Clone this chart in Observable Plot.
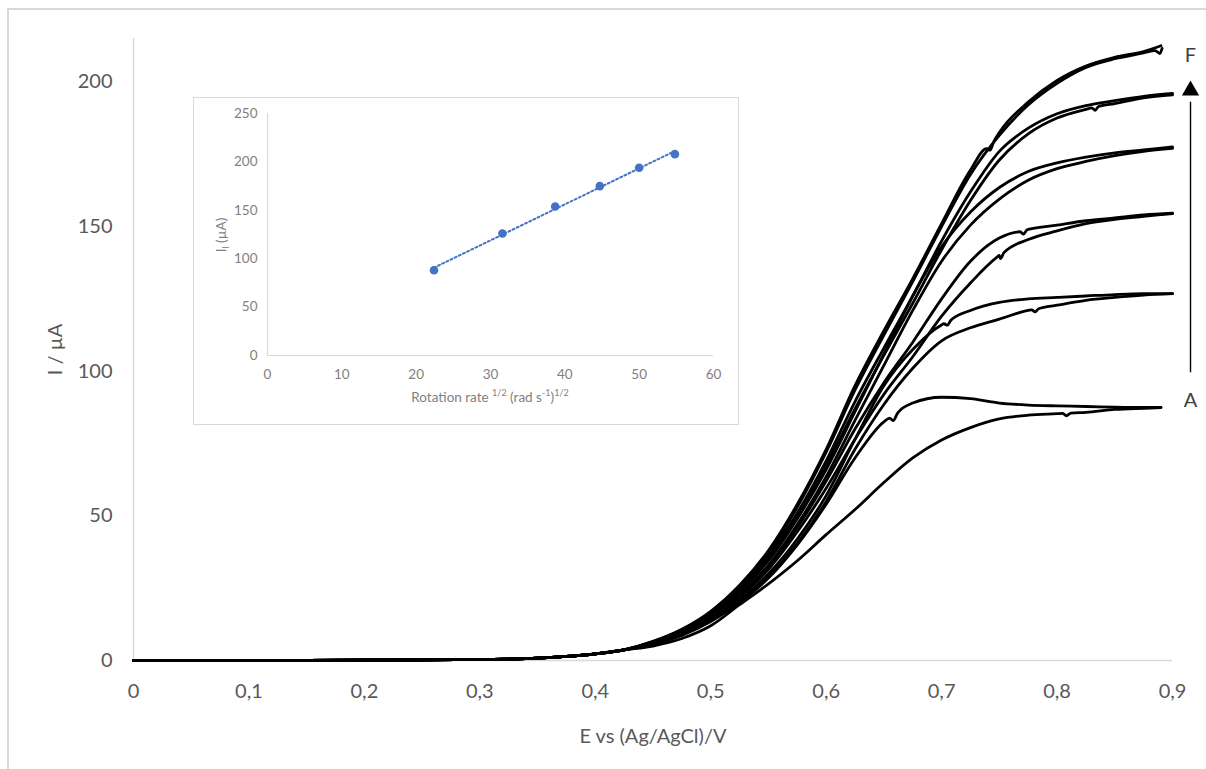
<!DOCTYPE html>
<html>
<head>
<meta charset="utf-8">
<script src="https://cdn.jsdelivr.net/npm/d3@7"></script>
<script src="https://cdn.jsdelivr.net/npm/@observablehq/plot@0.6"></script>
<style>
  body { margin: 0; background: #fff; }
  #wrap { position: relative; width: 1206px; height: 769px; overflow: hidden; background: #fff; font-family: Lato, "Open Sans", sans-serif; }
  #wrap svg { display: block; }
  #main { position: absolute; left: 0; top: 0; }
  #frame { position: absolute; left: 7px; top: 8px; width: 1400px; height: 1000px; border: 2px solid #d9d9d9; box-sizing: border-box; pointer-events: none; }
  #insetbg { position: absolute; left: 193px; top: 97px; width: 546px; height: 328px; background: #fff; }
  #inset { position: absolute; left: 193px; top: 97px; }
  #insetframe { position: absolute; left: 193px; top: 97px; width: 546px; height: 328px; border: 1.5px solid #d9d9d9; box-sizing: border-box; pointer-events: none; }
  .ilabel { position: absolute; color: #7f7f7f; font-size: 13.5px; font-family: Lato, sans-serif; white-space: nowrap; }
  .ilabel sup, .ilabel sub { font-size: 9px; }
</style>
</head>
<body>
<div id="wrap">
  <div id="main"></div>
  <div id="frame"></div>
  <div id="insetbg"></div>
  <div id="inset"></div>
  <div id="insetframe"></div>
  <div class="ilabel" id="ixlabel" style="left:267px;width:446px;top:387px;text-align:center;">Rotation rate <sup>1/2</sup> (rad s<sup>-1</sup>)<sup>1/2</sup></div>
  <div class="ilabel" id="iylabel" style="left:222px;top:235px;transform:translate(-50%,-50%) rotate(-90deg);">I<sub>l</sub> (µA)</div>
</div>
<script>
// ---------- main chart data ----------
const X_TICKS = [0, 0.1, 0.2, 0.3, 0.4, 0.5, 0.6, 0.7, 0.8, 0.9];
const Y_TICKS = [0, 50, 100, 150, 200];

// common foot of all voltammograms
const E_FOOT = [0, 0.05, 0.1, 0.15, 0.2, 0.25, 0.3, 0.325, 0.35, 0.375, 0.4, 0.425];
const I_FOOT = [0, 0, 0, 0.05, 0.1, 0.2, 0.35, 0.5, 0.8, 1.4, 2.3, 3.7];

// rising part, sampled potentials
const E_RISE = [0.45, 0.475, 0.5, 0.525, 0.55, 0.575, 0.6, 0.625, 0.65, 0.675, 0.7, 0.725, 0.75, 0.775, 0.8, 0.825, 0.85, 0.875, 0.9];

const F1 = [6.6, 10.8, 17, 26, 38, 54, 73, 95, 114, 132, 151, 169.5, 182.5, 193, 200.5, 205.5, 208.5, 210.5, null];
const F2 = [6.5, 10.6, 16.6, 25.5, 37, 53, 72, 93.5, 112.5, 131, 150, 168, 181.5, 192, 199.5, 205, 208, 210, null];
const E1 = [6.4, 10.4, 16.3, 25, 36, 51, 69, 89.5, 108, 126, 145, 162, 176, 184, 189, 191.8, 193.5, 195, 196];
const E2 = [6.3, 10.2, 16, 24.5, 35, 50, 67.5, 87, 105.5, 123.5, 142, 159, 173, 182, 187.5, 190.5, 192.5, 194.5, 195.5];
const D1 = [6.2, 10.0, 15.8, 24, 34.5, 49, 66, 86, 106, 126, 143, 155, 163.5, 169, 172, 174, 175.5, 176.5, 177.5];
const D2 = [6.1, 9.8, 15.3, 23, 33, 47, 63.5, 83, 102, 121, 138, 150.5, 159.5, 166, 170, 172.5, 174.5, 176, 177];
const C1 = [6.0, 9.6, 15, 22.5, 32.5, 46, 62, 80, 96, 110, 125, 138, 146, 149, 150.5, 152, 153, 154, 154.6];
const C2 = [5.9, 9.4, 14.6, 22, 31.5, 44.5, 59.5, 76.5, 92, 105, 119, 130.5, 140, 145.5, 148.5, 151, 152.5, 153.5, 154.5];
const B1 = [5.8, 9.2, 14.2, 21, 30, 42, 57, 76.5, 95, 107.5, 116, 121, 123.8, 125, 125.5, 126, 126.5, 126.8, 126.8];
const B2 = [5.7, 9.0, 13.8, 20.3, 29, 40.5, 55, 73, 88.5, 101, 110.5, 115, 118, 121, 122.8, 124.5, 125.5, 126.3, 126.8];
const A1 = [5.5, 8.7, 13.5, 20, 28.5, 40, 54, 70, 82.5, 89, 91, 90.5, 89, 88.3, 88, 87.8, 87.6, 87.5, null];
const A2 = [5.0, 7.6, 12, 19.3, 26.5, 34.5, 43.5, 52.2, 61.5, 70, 76.2, 80.5, 83.5, 84.8, 85.3, 85.8, 86.8, 87.2, null];

// extra read points (ends, small noise notches): [E, I]
const F1_EXTRA = [[0.739, 176.9], [0.742, 176.4], [0.745, 179.2], [0.89, 212.5]];
const F2_EXTRA = [[0.885, 210.8], [0.889, 209.8], [0.891, 211.6]];
const E2_EXTRA = [[0.83, 191.0], [0.833, 190.2], [0.836, 191.5]];
const C1_EXTRA = [[0.768, 148.2], [0.771, 147.4], [0.774, 148.9]];
const C2_EXTRA = [[0.748, 139.4], [0.751, 138.9], [0.754, 141.0]];
const B1_EXTRA = [[0.702, 116.4], [0.705, 115.9], [0.708, 117.6]];
const B2_EXTRA = [[0.778, 121.2], [0.781, 120.5], [0.784, 121.6]];
const A1_EXTRA = [[0.655, 83.8], [0.658, 82.9], [0.662, 85.6], [0.89, 87.5]];
const A2_EXTRA = [[0.805, 85.4], [0.808, 84.6], [0.812, 85.5], [0.89, 87.4]];

const SERIES = [
  ["F1", F1, F1_EXTRA], ["F2", F2, F2_EXTRA],
  ["E1", E1, []], ["E2", E2, E2_EXTRA],
  ["D1", D1, []], ["D2", D2, []],
  ["C1", C1, C1_EXTRA], ["C2", C2, C2_EXTRA],
  ["B1", B1, B1_EXTRA], ["B2", B2, B2_EXTRA],
  ["A1", A1, A1_EXTRA], ["A2", A2, A2_EXTRA]
];

// inset data
const ROT_SQRT = [22.4, 31.6, 38.7, 44.7, 50.0, 54.8];
const I_LIM = [88, 126, 154, 175, 194, 208];
const INSET_XTICKS = [0, 10, 20, 30, 40, 50, 60];
const INSET_YTICKS = [0, 50, 100, 150, 200, 250];

// annotation (arrow A -> F)
const ARROW_X = 0.9156;
const ARROW = [{x: ARROW_X, y1: 99.5, y2: 193}];
const ARROW_HEAD = [{x: ARROW_X, y: 197}];
const END_LABELS = [{x: ARROW_X, y: 209, t: "F"}, {x: ARROW_X, y: 89.9, t: "A"}];

// ---------- build rows ----------
const rows = [];
for (const [name, vals, extra] of SERIES) {
  const pts = [];
  E_FOOT.forEach((e, i) => pts.push([e, I_FOOT[i]]));
  E_RISE.forEach((e, i) => { if (vals[i] != null) pts.push([e, vals[i]]); });
  extra.forEach(p => pts.push(p));
  pts.sort((a, b) => a[0] - b[0]);
  pts.forEach(([e, v]) => rows.push({series: name, E: e, I: v}));
}

const fmtComma = d => d === 0 ? "0" : d3.format(".1f")(d).replace(".", ",");

const main = Plot.plot({
  width: 1206,
  height: 769,
  marginLeft: 133,
  marginRight: 34,
  marginTop: 38,
  marginBottom: 109,
  style: {fontFamily: "Lato, 'Open Sans', sans-serif", fontSize: "20px", color: "#595959", background: "white", overflow: "visible"},
  x: {domain: [0, 0.9]},
  y: {domain: [0, 215]},
  marks: [
    Plot.axisX({ticks: X_TICKS, tickSize: 0, tickPadding: 23, tickFormat: fmtComma,
      label: "E vs (Ag/AgCl)/V", labelAnchor: "center", labelArrow: "none", labelOffset: 82}),
    Plot.axisY({ticks: Y_TICKS, tickSize: 0, tickPadding: 21,
      label: "I / µA", labelAnchor: "center", labelArrow: "none", labelOffset: 86}),
    Plot.ruleY([0], {stroke: "#d9d9d9", strokeWidth: 1.5}),
    Plot.ruleX([0], {stroke: "#d9d9d9", strokeWidth: 1.5}),
    Plot.line(rows, {x: "E", y: "I", z: "series", stroke: "black", strokeWidth: 2.8, curve: "monotone-x"}),
    Plot.ruleX(ARROW, {x: "x", y1: "y1", y2: "y2", stroke: "black", strokeWidth: 1.4}),
    Plot.dot(ARROW_HEAD, {x: "x", y: "y", symbol: "triangle", r: 6.4, fill: "black", stroke: "none"}),
    Plot.text(END_LABELS, {x: "x", y: "y", text: "t", fontSize: 20, fill: "#404040"})
  ]
});
document.getElementById("main").appendChild(main);

const insetData = ROT_SQRT.map((x, i) => ({x, y: I_LIM[i]}));
const inset = Plot.plot({
  width: 546,
  height: 328,
  marginLeft: 74,
  marginRight: 26,
  marginTop: 16,
  marginBottom: 70,
  style: {fontFamily: "Lato, 'Open Sans', sans-serif", fontSize: "13.5px", color: "#7f7f7f", background: "transparent", overflow: "visible"},
  x: {domain: [0, 60]},
  y: {domain: [0, 250]},
  marks: [
    Plot.axisX({ticks: INSET_XTICKS, tickSize: 0, tickPadding: 14, label: null}),
    Plot.axisY({ticks: INSET_YTICKS, tickSize: 0, tickPadding: 10, label: null}),
    Plot.ruleY([0], {stroke: "#d9d9d9", strokeWidth: 1.2}),
    Plot.ruleX([0], {stroke: "#d9d9d9", strokeWidth: 1.2}),
    Plot.linearRegressionY(insetData, {x: "x", y: "y", stroke: "#4472C4", strokeWidth: 2, strokeDasharray: "2,2.6", ci: 0}),
    Plot.dot(insetData, {x: "x", y: "y", r: 4.3, fill: "#4472C4", stroke: "none"})
  ]
});
document.getElementById("inset").appendChild(inset);
</script>
</body>
</html>
